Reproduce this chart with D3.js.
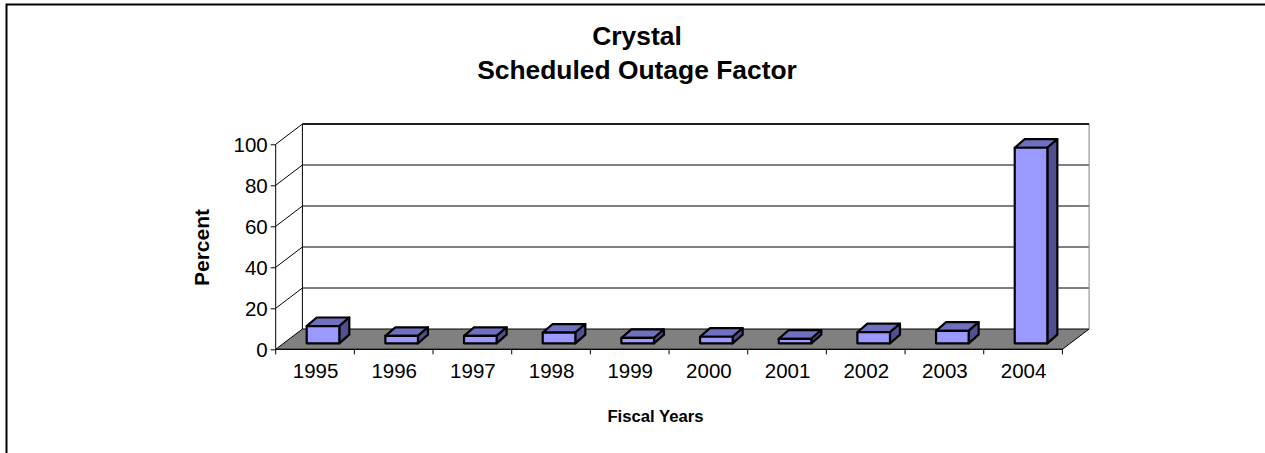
<!DOCTYPE html>
<html><head><meta charset="utf-8">
<script src="https://cdn.jsdelivr.net/npm/d3@7/dist/d3.min.js"></script>
<style>html,body{margin:0;padding:0;background:#fff}svg{display:block}text{font-family:"Liberation Sans",Arial,sans-serif;fill:#000}</style>
</head><body><div id="c"></div>
<script>
const years = ["1995","1996","1997","1998","1999","2000","2001","2002","2003","2004"];
const values = [8.4,3.6,3.6,5.2,2.6,3.2,2.2,5.4,6.1,95.4];
const yTicks = [0,20,40,60,80,100];
const titleLines = ["Crystal","Scheduled Outage Factor"];
const yLabel = "Percent", xLabel = "Fiscal Years";

const W=1265,H=453;
const svg=d3.select("#c").append("svg").attr("width",W).attr("height",H);
const x=d3.scaleBand().domain(years).range([275.7,1062.4]);
const y=d3.scaleLinear().domain([0,100]).range([349.3,144.3]);
const dx=26.7,dy=-20.3;          // wall depth
const bx=10,by=-8.6;             // bar depth
const barOffX=31,barW=32.6,baseLift=6;

// frame
svg.append("path").attr("d",`M6.5,${H}V4.5H${W}`).attr("fill","none").attr("stroke","#000").attr("stroke-width",2);

// floor
svg.append("path").attr("d",`M${x.range()[0]},${y(0)}L${x.range()[0]+dx},${y(0)+dy}H${x.range()[1]+dx}L${x.range()[1]},${y(0)}Z`)
  .attr("fill","#808080").attr("stroke","#000").attr("stroke-width",1);

// walls & gridlines
const left=x.range()[0],right=x.range()[1];
const g=svg.append("g").attr("fill","none").attr("stroke","#000").attr("stroke-width",1);
yTicks.forEach(t=>{
  if(t>0){
    g.append("path").attr("d",`M${left},${y(t)}L${left+dx},${y(t)+dy}H${right+dx}`);
  }
});
g.append("path").attr("d",`M${left+dx},${y(0)+dy}V${y(100)+dy}`);
g.append("path").attr("d",`M${right+dx},${y(0)+dy}V${y(100)+dy}`).attr("stroke","#808080");
g.append("path").attr("d",`M${left},${y(0)}V${y(100)}`);
g.append("path").attr("d",`M${left},${y(0)}H${right}`);
g.append("path").attr("d",`M${left+dx},${y(100)+dy}H${right+dx}`).attr("stroke-width",1.4);

// y axis ticks + labels
const yAxis=d3.axisLeft(y).tickValues(yTicks).tickSize(5).tickPadding(3);
const ya=svg.append("g").attr("transform",`translate(${left},-0.5)`).call(yAxis);
ya.select(".domain").remove();
ya.selectAll("text").style("font-size","20.5px").attr("dy","0.36em");
ya.selectAll("line").attr("stroke","#000").attr("transform","translate(0,0.5)");

// x axis
const xAxis=d3.axisBottom(x).tickSize(0).tickPadding(14).offset(0);
const xa=svg.append("g").attr("transform",`translate(0.5,${y(0)})`).call(xAxis);
xa.select(".domain").remove();
xa.selectAll("text").style("font-size","20.5px");
const tickXs=years.map(d=>x(d)).concat([right]);
svg.append("g").selectAll("line").data(tickXs).join("line")
  .attr("x1",d=>d).attr("x2",d=>d).attr("y1",y(0)).attr("y2",y(0)+5).attr("stroke","#000");

// bars
const bars=svg.append("g").attr("stroke","#000").attr("stroke-width",2.2).attr("stroke-linejoin","round");
years.forEach((yr,i)=>{
  const x0=x(yr)+barOffX,x1=x0+barW,yb=y(0)-baseLift,yt=y(values[i])-baseLift;
  bars.append("path").attr("fill","#7070c0").attr("d",`M${x0},${yt}L${x0+bx},${yt+by}H${x1+bx}L${x1},${yt}Z`);
  bars.append("path").attr("fill","#505090").attr("d",`M${x1},${yt}L${x1+bx},${yt+by}V${yb+by}L${x1},${yb}Z`);
  bars.append("path").attr("fill","#9999ff").attr("d",`M${x0},${yt}H${x1}V${yb}H${x0}Z`);
});

// titles
const cx=637;
svg.selectAll(".t").data(titleLines).join("text").attr("class","t")
  .attr("x",cx).attr("y",(d,i)=>45+i*33.5).attr("text-anchor","middle")
  .style("font-size","26.4px").style("font-weight","bold").text(d=>d);
svg.append("text").attr("transform","translate(209,247.5) rotate(-90)").attr("text-anchor","middle")
  .style("font-size","21px").style("font-weight","bold").text(yLabel);
svg.append("text").attr("x",655.5).attr("y",421.5).attr("text-anchor","middle")
  .style("font-size","16.7px").style("font-weight","bold").text(xLabel);
</script></body></html>
